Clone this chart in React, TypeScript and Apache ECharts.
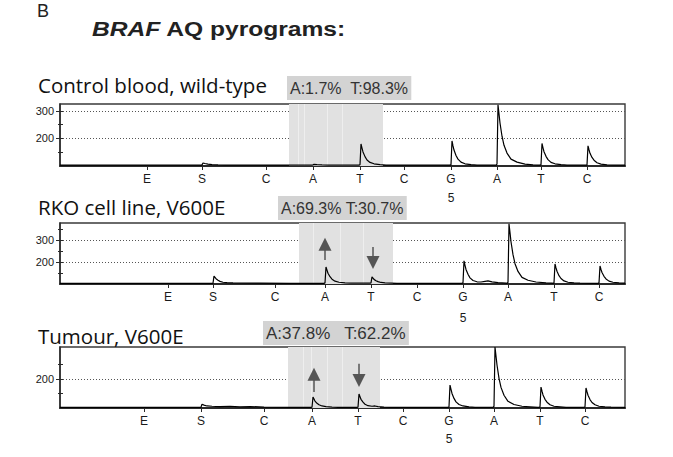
import React, { useEffect, useRef } from 'react';
import * as echarts from 'echarts';

// ---------- data ----------
const dispensation = ['E', 'S', 'C', 'A', 'T', 'C', 'G', 'A', 'T', 'C'];
const numberedIndex = 6;
const numberLabel = '5';

const panelTitles = ['Control blood, wild-type', 'RKO cell line, V600E', 'Tumour, V600E'];
const percentLabels = ['A:1.7%  T:98.3%', 'A:69.3% T:30.7%', 'A:37.8%   T:62.2%'];

// dispensation positions (time units along the pyrogram)
const posControl = [87, 142, 206, 253, 300, 344, 391, 437, 481, 527];
const posRKO = [108, 153, 215, 265, 311, 357, 403, 448, 494, 539];
const posTumour = [84, 141, 204, 252, 298, 343, 389, 434, 480, 525];

// light units (y)
const yRangeControl = [100, 325];
const yRangeRKO = [100, 377];
const yRangeTumour = [100, 310];
const yMajorControl = [200, 300];
const yMinorControl = [150, 250];
const yMajorRKO = [200, 300];
const yMinorRKO = [150, 250, 350];
const yMajorTumour = [200];
const yMinorTumour = [150, 250];

// analysed region (variable position) bands and their inner dispensation lines
const bandControl = [229, 323];
const bandLinesControl = [238, 244, 267, 282];
const bandRKO = [239, 333];
const bandLinesRKO = [253, 280, 303];
const bandTumour = [228, 320];
const bandLinesTumour = [243, 251, 267, 282];

// arrows: [x, from y, to y]
const arrowsControl: number[][] = [];
const arrowsRKO = [[265, 209, 280], [313, 268, 198]];
const arrowsTumour = [[254, 155, 216], [299, 252, 195]];

// pyrogram traces [time, light]
const traceControl = [
  [0, 103], [60, 103], [120, 103], [141, 103], [142, 104], [143, 111], [145, 109], [148, 107], [152, 105], [158, 104], [165, 103],
  [200, 103], [230, 103], [252, 103], [253, 104], [254, 106], [257, 105], [262, 104], [268, 103],
  [299, 103], [300, 105], [301, 180], [302, 165], [303, 151], [305, 134], [307, 122], [310, 113], [314, 108], [320, 105], [326, 103],
  [360, 103], [390, 103], [391, 105], [392, 191], [393, 173], [394, 158], [396, 138], [398, 125], [401, 114], [405, 108], [411, 105], [417, 103],
  [436, 103], [437, 107], [438, 322], [439, 289], [440, 256], [442, 208], [444, 175], [447, 147], [451, 125], [457, 114], [465, 107], [473, 104], [479, 103],
  [480, 103], [481, 105], [482, 182], [483, 166], [484, 152], [486, 135], [488, 123], [491, 113], [495, 108], [501, 105], [507, 103],
  [526, 103], [527, 104], [528, 173], [529, 159], [530, 146], [532, 131], [534, 121], [537, 112], [541, 107], [547, 104], [553, 103], [565, 103],
];

const traceRKO = [
  [0, 103], [60, 103], [120, 103], [152, 103], [153, 104], [154, 136], [155, 130], [156, 124], [158, 117], [160, 112], [163, 108], [167, 106], [173, 105],
  [200, 104], [230, 103], [264, 103], [265, 105], [266, 177], [267, 163], [268, 149], [270, 133], [272, 122], [275, 113], [279, 108], [285, 105], [291, 104],
  [310, 104], [311, 105], [312, 132], [313, 127], [314, 121], [316, 115], [318, 111], [321, 107], [325, 105], [331, 104], [337, 103],
  [370, 103], [402, 103], [403, 106], [404, 205], [405, 185], [406, 166], [408, 144], [410, 128], [413, 116], [417, 110], [421, 109], [425, 112], [428, 114], [432, 110], [438, 106], [446, 104],
  [447, 103], [448, 108], [449, 373], [450, 333], [451, 292], [453, 233], [455, 192], [458, 157], [462, 130], [468, 117], [476, 109], [486, 105], [492, 104],
  [493, 103], [494, 105], [495, 191], [496, 173], [497, 158], [499, 138], [501, 125], [504, 114], [508, 108], [514, 105], [520, 104], [534, 103],
  [538, 103], [539, 105], [540, 182], [541, 166], [542, 152], [544, 135], [546, 123], [549, 113], [553, 108], [559, 105], [565, 104],
];

const traceTumour = [
  [0, 102], [60, 102], [120, 102], [140, 102], [141, 103], [142, 113], [144, 110], [147, 107], [152, 106], [160, 105], [170, 106], [180, 104], [190, 105], [204, 103], [230, 102],
  [251, 102], [252, 103], [253, 138], [254, 131], [255, 124], [257, 116], [259, 111], [262, 107], [266, 105], [272, 103], [278, 102],
  [297, 102], [298, 103], [299, 148], [300, 139], [301, 130], [303, 120], [305, 113], [308, 108], [312, 106], [315, 107], [318, 105], [324, 103], [330, 102],
  [360, 102], [388, 102], [389, 104], [390, 179], [391, 164], [392, 150], [394, 133], [396, 121], [399, 112], [403, 107], [409, 104], [415, 102],
  [433, 102], [434, 106], [435, 310], [436, 279], [437, 248], [439, 202], [441, 171], [444, 144], [448, 123], [454, 112], [462, 106], [470, 104], [478, 102],
  [479, 102], [480, 104], [481, 172], [482, 158], [483, 145], [485, 130], [487, 120], [490, 111], [494, 106], [500, 104], [506, 102],
  [524, 102], [525, 104], [526, 169], [527, 156], [528, 144], [530, 129], [532, 119], [535, 111], [539, 106], [545, 104], [551, 103], [565, 102],
];

const timeRange = [0, 565];

// ---------- layout ----------
const panels = [
  { pos: posControl, yRange: yRangeControl, yMajor: yMajorControl, yMinor: yMinorControl, band: bandControl, bandLines: bandLinesControl, arrows: arrowsControl, trace: traceControl,
    grid: { left: 60, top: 104, width: 565, height: 62 }, numLineHeight: 19, labelMargin: 3, title: { x: 38, y: 85 }, box: { x: 287, y: 76 }, boxSize: 16 },
  { pos: posRKO, yRange: yRangeRKO, yMajor: yMajorRKO, yMinor: yMinorRKO, band: bandRKO, bandLines: bandLinesRKO, arrows: arrowsRKO, trace: traceRKO,
    grid: { left: 60, top: 223, width: 565, height: 61 }, numLineHeight: 21, labelMargin: 2, title: { x: 38, y: 207 }, box: { x: 278, y: 196 }, boxSize: 16 },
  { pos: posTumour, yRange: yRangeTumour, yMajor: yMajorTumour, yMinor: yMinorTumour, band: bandTumour, bandLines: bandLinesTumour, arrows: arrowsTumour, trace: traceTumour,
    grid: { left: 60, top: 347, width: 565, height: 61 }, numLineHeight: 18.5, labelMargin: 3.5, title: { x: 38, y: 336 }, box: { x: 263, y: 321 }, boxSize: 17 },
];

const AXIS_COLOR = '#2a2a2a';
const LABEL_FONT = '"Liberation Sans", Arial, sans-serif';
const TITLE_FONT = '"Open Sans", Lato, sans-serif';

function buildOption() {
  const grid: any[] = [];
  const xAxis: any[] = [];
  const yAxis: any[] = [];
  const series: any[] = [];
  const graphic: any[] = [];

  graphic.push({ type: 'text', x: 37, y: 2, style: { text: 'B', font: `18px ${LABEL_FONT}`, fill: '#222', verticalAlign: 'top' } });
  graphic.push({
    type: 'text', x: 92, y: 29, scaleX: 1.23,
    style: {
      text: '{a|BRAF}{b| AQ pyrograms:}', verticalAlign: 'middle', fill: '#222',
      rich: {
        a: { font: `italic bold 20px ${LABEL_FONT}`, fill: '#222' },
        b: { font: `bold 20px ${LABEL_FONT}`, fill: '#222' },
      },
    },
  });

  panels.forEach((p, i) => {
    grid.push({ ...p.grid, show: true, borderColor: '#3a3a3a', borderWidth: 1.4, backgroundColor: 'transparent' });
    const yBase = i * 3;
    xAxis.push({
      type: 'value', gridIndex: i, min: timeRange[0], max: timeRange[1],
      axisLine: { show: true, onZero: false, lineStyle: { color: AXIS_COLOR, width: 2 } },
      axisTick: { show: true, customValues: p.pos, length: 4, lineStyle: { color: AXIS_COLOR, width: 1 } },
      axisLabel: {
        show: true, customValues: p.pos, margin: p.labelMargin, color: '#1a1a1a', fontFamily: LABEL_FONT, fontSize: 12,
        lineHeight: p.numLineHeight,
        formatter: (v: number) => {
          const idx = p.pos.indexOf(v);
          if (idx < 0) return '';
          return idx === numberedIndex ? `${dispensation[idx]}\n${numberLabel}` : dispensation[idx];
        },
      },
      splitLine: { show: false },
    });
    // main y-axis: labels, major ticks (outside), dotted grid lines
    yAxis.push({
      type: 'value', gridIndex: i, position: 'left', min: p.yRange[0], max: p.yRange[1],
      axisLine: { show: true, lineStyle: { color: AXIS_COLOR, width: 1.5 } },
      axisTick: { show: true, customValues: p.yMajor, length: 4, lineStyle: { color: AXIS_COLOR, width: 1 } },
      axisLabel: { show: true, customValues: p.yMajor, margin: 6, color: '#1a1a1a', fontFamily: LABEL_FONT, fontSize: 11 },
      splitLine: { show: true, lineStyle: { color: '#555', width: 1, type: [1, 2] } },
    });
    // inward part of all ticks
    yAxis.push({
      type: 'value', gridIndex: i, position: 'left', offset: 0, min: p.yRange[0], max: p.yRange[1],
      axisLine: { show: false }, axisLabel: { show: false }, splitLine: { show: false },
      axisTick: { show: true, inside: true, customValues: [...p.yMajor, ...p.yMinor], length: 3, lineStyle: { color: AXIS_COLOR, width: 1 } },
    });
    // outward part of minor ticks
    yAxis.push({
      type: 'value', gridIndex: i, position: 'left', offset: 0, min: p.yRange[0], max: p.yRange[1],
      axisLine: { show: false }, axisLabel: { show: false }, splitLine: { show: false },
      axisTick: { show: true, customValues: p.yMinor, length: 2, lineStyle: { color: AXIS_COLOR, width: 1 } },
    });

    // band inner lines (between band and trace)
    series.push({
      type: 'line', xAxisIndex: i, yAxisIndex: yBase, data: [], silent: true,
      markLine: {
        z: 1.5, silent: true, symbol: ['none', 'none'], label: { show: false },
        lineStyle: { color: '#eeeeee', width: 1, type: 'solid' },
        data: p.bandLines.map((x) => ({ xAxis: x })),
      },
    });

    // trace with band and arrows
    series.push({
      type: 'line', xAxisIndex: i, yAxisIndex: yBase, data: p.trace, showSymbol: false, symbol: 'none',
      lineStyle: { color: '#000', width: 1.2 }, z: 3,
      markArea: {
        z: 1, silent: true,
        itemStyle: { color: '#e1e1e1' },
        data: [[{ xAxis: p.band[0] }, { xAxis: p.band[1] }]],
      },
      markLine: {
        z: 5, silent: true, symbol: ['none', 'triangle'], symbolSize: 13, label: { show: false },
        lineStyle: { color: '#555', width: 1.5, type: 'solid' },
        itemStyle: { color: '#555' },
        data: p.arrows.map((a) => [{ coord: [a[0], a[1]] }, { coord: [a[0], a[2]] }]),
      },
    });

    graphic.push({
      type: 'text', x: p.title.x, y: p.title.y,
      style: { text: panelTitles[i], font: `20.5px ${TITLE_FONT}`, fill: '#111', verticalAlign: 'middle' },
    });
    graphic.push({
      type: 'text', x: p.box.x, y: p.box.y,
      style: {
        text: percentLabels[i], font: `${p.boxSize}px ${LABEL_FONT}`, fill: '#333', verticalAlign: 'top',
        backgroundColor: '#d3d3d3', padding: [4, 3, 3, 3], lineHeight: 17,
      },
    });
  });

  return { animation: false, backgroundColor: '#fff', grid, xAxis, yAxis, series, graphic };
}

export default function App() {
  const ref = useRef<HTMLDivElement>(null);
  useEffect(() => {
    document.body.style.margin = '0';
    if (!ref.current) return;
    const chart = echarts.init(ref.current, null, { renderer: 'svg' });
    chart.setOption(buildOption() as any);
    return () => chart.dispose();
  }, []);
  return <div ref={ref} style={{ width: 673, height: 457 }} />;
}
